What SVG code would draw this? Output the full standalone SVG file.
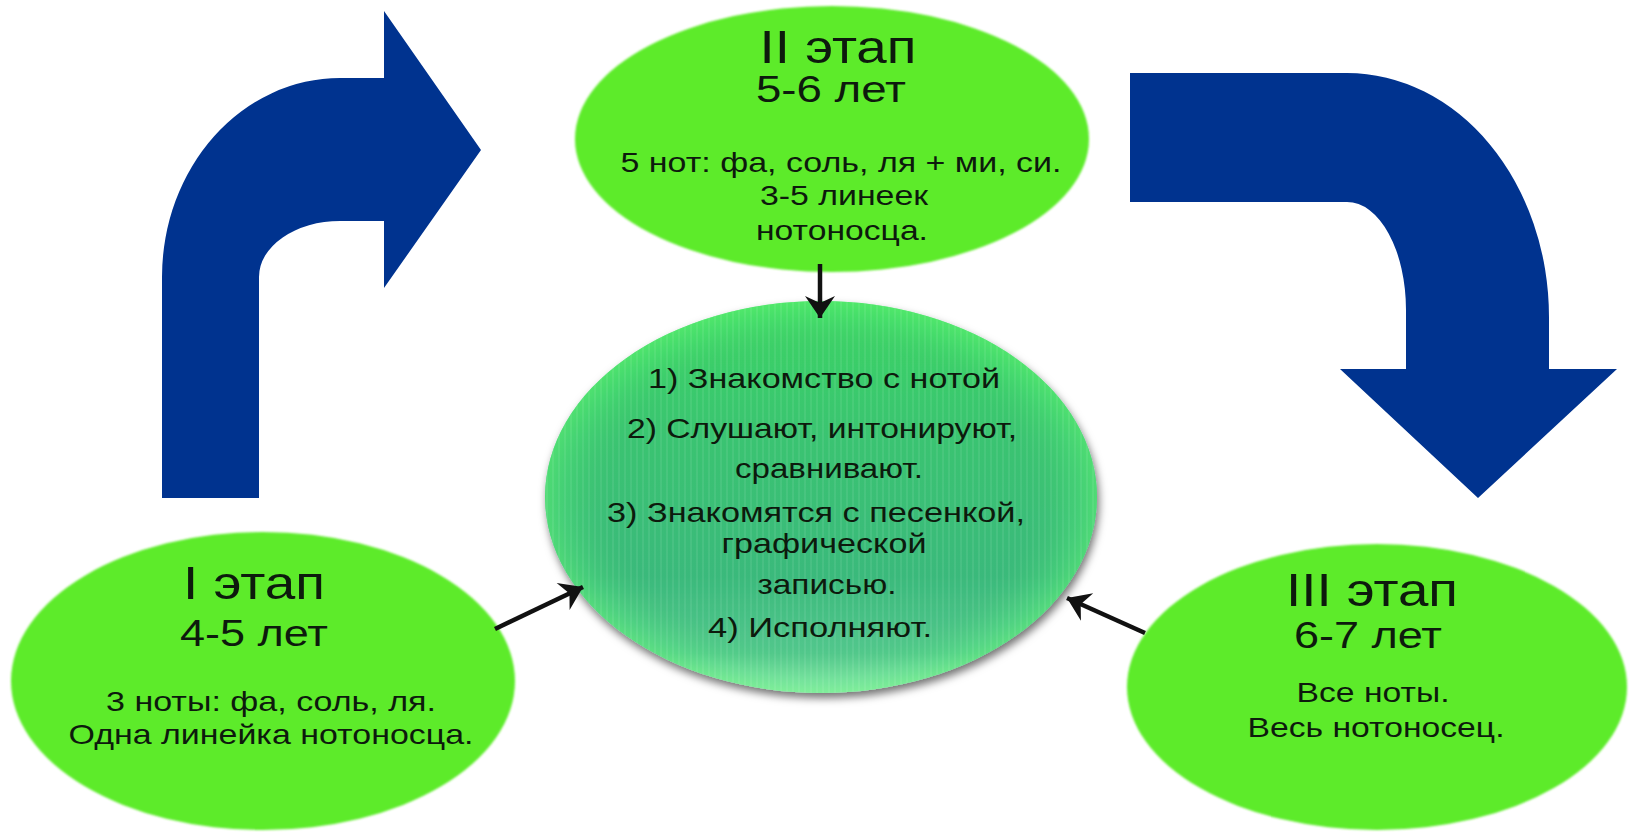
<svg xmlns="http://www.w3.org/2000/svg" width="1635" height="835" viewBox="0 0 1635 835">
<style>
.stage{fill:#5DEB2B;}
.blue{fill:#00338F;}
text{font-family:"Liberation Sans",Arial,sans-serif;fill:#0d1a0d;text-anchor:middle;}
.t1{font-size:46px;}
.t2{font-size:37px;}
.t3{font-size:28px;}
.tc{font-size:28px;}
.conn{stroke:#111;stroke-width:4.5;fill:none;marker-end:url(#ah);}
</style>
<defs>
<marker id="ah" markerUnits="userSpaceOnUse" markerWidth="30" markerHeight="34" viewBox="-2 -17 26 34" refX="22" refY="0" orient="auto">
<path d="M22,0 L0,-15 L7,0 L0,15 Z" fill="#111"/>
</marker>
<linearGradient id="cg" x1="0" y1="0" x2="0" y2="1">
<stop offset="0" stop-color="#40E064"/>
<stop offset="0.35" stop-color="#3CCB74"/>
<stop offset="0.7" stop-color="#3DBF80"/>
<stop offset="0.9" stop-color="#5ACF95"/>
<stop offset="1" stop-color="#A0EEC4"/>
</linearGradient>
<radialGradient id="cr" cx="0.5" cy="0.5" r="0.5">
<stop offset="0.75" stop-color="#2a9a60" stop-opacity="0.15"/>
<stop offset="0.93" stop-color="#50E070" stop-opacity="0.35"/>
<stop offset="1" stop-color="#60F070" stop-opacity="0.5"/>
</radialGradient>
<pattern id="stripes" width="6" height="10" patternUnits="userSpaceOnUse">
<rect x="0" y="0" width="2" height="10" fill="#ffffff" opacity="0.07"/>
</pattern>
<filter id="sh" x="-10%" y="-10%" width="120%" height="125%">
<feDropShadow dx="2" dy="5" stdDeviation="4" flood-color="#000" flood-opacity="0.55"/>
</filter>
<filter id="soft" x="-5%" y="-5%" width="110%" height="110%">
<feGaussianBlur stdDeviation="1.2"/>
</filter>
</defs>
<rect width="1635" height="835" fill="#ffffff"/>

<g id="arrow-left">
<path class="blue" d="M162,498 L162,277 A178,199 0 0 1 340,78 L384,78 L384,11 L481,150 L384,288 L384,221 L340,221 A81,56 0 0 0 259,277 L259,498 Z"/>
</g>
<g id="arrow-right">
<path class="blue" d="M1130,73 L1347,73 A202,244 0 0 1 1549,317 L1549,369 L1617,369 L1478,498 L1340,369 L1406,369 L1406,310 A59,108 0 0 0 1347,202 L1130,202 Z"/>
</g>

<g id="stage2">
<ellipse class="stage" cx="832" cy="139" rx="257" ry="133" filter="url(#soft)"/>
<text class="t1" x="838" y="63" textLength="157" lengthAdjust="spacingAndGlyphs">II этап</text>
<text class="t2" x="831" y="102" textLength="150" lengthAdjust="spacingAndGlyphs">5-6 лет</text>
<text class="t3" x="841" y="172" textLength="441" lengthAdjust="spacingAndGlyphs">5 нот: фа, соль, ля + ми, си.</text>
<text class="t3" x="844" y="205" textLength="168" lengthAdjust="spacingAndGlyphs">3-5 линеек</text>
<text class="t3" x="842" y="240" textLength="172" lengthAdjust="spacingAndGlyphs">нотоносца.</text>
</g>

<g id="stage1">
<ellipse class="stage" cx="263" cy="681" rx="252" ry="149" filter="url(#soft)"/>
<text class="t1" x="254" y="599" textLength="142" lengthAdjust="spacingAndGlyphs">I этап</text>
<text class="t2" x="254" y="646" textLength="148" lengthAdjust="spacingAndGlyphs">4-5 лет</text>
<text class="t3" x="271" y="711" textLength="330" lengthAdjust="spacingAndGlyphs">3 ноты: фа, соль, ля.</text>
<text class="t3" x="271" y="744" textLength="405" lengthAdjust="spacingAndGlyphs">Одна линейка нотоносца.</text>
</g>

<g id="stage3">
<ellipse class="stage" cx="1377" cy="687" rx="250" ry="143" filter="url(#soft)"/>
<text class="t1" x="1372" y="606" textLength="172" lengthAdjust="spacingAndGlyphs">III этап</text>
<text class="t2" x="1368" y="648" textLength="148" lengthAdjust="spacingAndGlyphs">6-7 лет</text>
<text class="t3" x="1373" y="702" textLength="153" lengthAdjust="spacingAndGlyphs">Все ноты.</text>
<text class="t3" x="1376" y="737" textLength="257" lengthAdjust="spacingAndGlyphs">Весь нотоносец.</text>
</g>

<g id="center">
<ellipse cx="821" cy="497" rx="276" ry="196" fill="url(#cg)" filter="url(#sh)"/>
<ellipse cx="821" cy="497" rx="276" ry="196" fill="url(#cr)"/>
<ellipse cx="821" cy="497" rx="276" ry="196" fill="url(#stripes)"/>
<text class="tc" x="824" y="388" textLength="352" lengthAdjust="spacingAndGlyphs">1) Знакомство с нотой</text>
<text class="tc" x="822" y="438" textLength="390" lengthAdjust="spacingAndGlyphs">2) Слушают, интонируют,</text>
<text class="tc" x="829" y="478" textLength="188" lengthAdjust="spacingAndGlyphs">сравнивают.</text>
<text class="tc" x="816" y="522" textLength="418" lengthAdjust="spacingAndGlyphs">3) Знакомятся с песенкой,</text>
<text class="tc" x="824" y="553" textLength="205" lengthAdjust="spacingAndGlyphs">графической</text>
<text class="tc" x="827" y="594" textLength="139" lengthAdjust="spacingAndGlyphs">записью.</text>
<text class="tc" x="820" y="637" textLength="224" lengthAdjust="spacingAndGlyphs">4) Исполняют.</text>
</g>

<g id="connectors">
<line class="conn" x1="820" y1="264" x2="820" y2="318"/>
<line class="conn" x1="495" y1="629" x2="583" y2="587"/>
<line class="conn" x1="1145" y1="633" x2="1067" y2="598"/>
</g>
</svg>
